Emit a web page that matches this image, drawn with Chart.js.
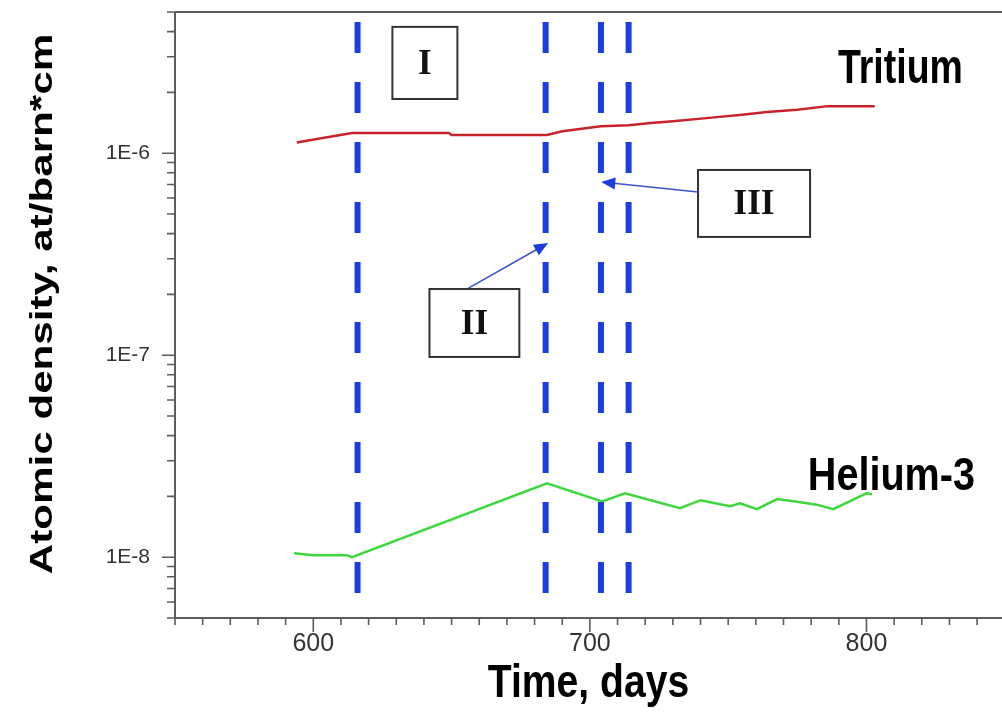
<!DOCTYPE html>
<html>
<head>
<meta charset="utf-8">
<title>Tritium and Helium-3</title>
<script src="https://cdn.jsdelivr.net/npm/chart.js@4.4.1/dist/chart.umd.min.js"></script>
<style>
   html, body { margin: 0; padding: 0; background: #fff; overflow: hidden; }
   canvas { display: block; }
</style>
</head>
<body>
<canvas id="density-graph" width="1002" height="728"></canvas>
<script>
const ctx = document.getElementById('density-graph')

// atomic density, at/barn*cm
const tritiumDays = [594, 605, 614, 649, 650, 684.5, 690, 697, 704, 714, 722, 730, 744, 755, 764, 775, 786, 803]
const tritiumValues = [1.13e-6, 1.2e-6, 1.26e-6, 1.26e-6, 1.23e-6, 1.23e-6, 1.285e-6, 1.32e-6, 1.36e-6, 1.375e-6, 1.41e-6, 1.44e-6, 1.5e-6, 1.55e-6, 1.6e-6, 1.64e-6, 1.71e-6, 1.71e-6]

const heliumDays = [593, 600, 612, 614, 684.5, 704.4, 712.7, 732.6, 740, 750.7, 754.3, 760.4, 767.7, 775, 782, 788, 800, 802]
const heliumValues = [1.047e-8, 1.023e-8, 1.023e-8, 1.0e-8, 2.32e-8, 1.89e-8, 2.07e-8, 1.75e-8, 1.915e-8, 1.79e-8, 1.85e-8, 1.73e-8, 1.94e-8, 1.88e-8, 1.82e-8, 1.73e-8, 2.07e-8, 2.05e-8]

// phase boundaries (days) and the span of the dashed markers
const phaseDays = [616, 684, 704, 714]
const phaseTop = 4.46e-6
const phaseBottom = 6.35e-9

const xTicks = [600, 700, 800]
const yTicks = [1e-8, 1e-7, 1e-6]

// callout boxes and arrows, in data units
const boxes = [
   { text: 'I', x0: 628.6, x1: 652.1, y0: 1.855e-6, y1: 4.22e-6 },
   { text: 'II', x0: 642, x1: 674.5, y0: 9.8e-8, y1: 2.127e-7 },
   { text: 'III', x0: 739.1, x1: 779.6, y0: 3.85e-7, y1: 8.26e-7 }
]
const arrows = [
   { from: [656.1, 2.15e-7], to: [684.9, 3.59e-7] },
   { from: [739.1, 6.43e-7], to: [704.1, 7.2e-7] }
]
const seriesNames = [
   { text: 'Tritium', x: 789.7, y: 2.226e-6, size: 48, sx: 0.78 },
   { text: 'Helium-3', x: 778.8, y: 2.15e-8, size: 46, sx: 0.86 }
]

const sans = "'Liberation Sans', Arial, sans-serif"
const serif = "'Liberation Serif', 'Times New Roman', serif"

const toPoints = (xs, ys) => xs.map((x, i) => ({ x, y: ys[i] }))
const expLabel = v => '1E' + Math.round(Math.log10(v))

const phaseSets = phaseDays.map(d => ({
   data: [{ x: d, y: phaseTop }, { x: d, y: phaseBottom }],
   borderColor: '#1b3ee0',
   borderWidth: 6,
   borderDash: [31, 29],
   borderCapStyle: 'butt',
   pointRadius: 0
}))

const drawStretched = (c, text, x, y, sx, sy) => {
   c.save()
   c.translate(x, y)
   c.scale(sx, sy)
   c.fillText(text, 0, 0)
   c.restore()
}

const frame = {
   id: 'frame',
   afterDatasetsDraw(chart) {
      const c = chart.ctx
      const a = chart.chartArea
      const x = chart.scales.x
      const y = chart.scales.y
      c.save()

      // axes and top border
      c.strokeStyle = '#5c5c5c'
      c.lineWidth = 2
      c.beginPath()
      c.moveTo(a.left, a.top)
      c.lineTo(a.right, a.top)
      c.moveTo(a.left, a.top)
      c.lineTo(a.left, a.bottom)
      c.lineTo(a.right, a.bottom)
      c.stroke()

      // major and minor ticks
      c.lineWidth = 1.6
      c.beginPath()
      for (let d = x.min; d <= x.max; d += 10) {
         const px = x.getPixelForValue(d)
         const len = d % 100 === 0 ? 14 : 7
         c.moveTo(px, a.bottom)
         c.lineTo(px, a.bottom + len)
      }
      for (let e = -9; e <= -6; e++) {
         for (let m = 1; m <= 9; m++) {
            const v = m * Math.pow(10, e)
            if (v < y.min * 0.999 || v > y.max * 1.001) continue
            const py = y.getPixelForValue(v)
            const len = m === 1 ? 13 : 8
            c.moveTo(a.left - len, py)
            c.lineTo(a.left, py)
         }
      }
      c.stroke()

      // callout boxes
      c.strokeStyle = '#333'
      c.lineWidth = 2
      c.font = 'bold 35px ' + serif
      c.textAlign = 'center'
      c.textBaseline = 'middle'
      boxes.forEach(b => {
         const l = x.getPixelForValue(b.x0)
         const r = x.getPixelForValue(b.x1)
         const t = y.getPixelForValue(b.y1)
         const bt = y.getPixelForValue(b.y0)
         c.fillStyle = '#fff'
         c.fillRect(l, t, r - l, bt - t)
         c.strokeRect(l, t, r - l, bt - t)
         c.fillStyle = '#111'
         c.fillText(b.text, (l + r) / 2, (t + bt) / 2 + 2)
      })

      // arrows
      arrows.forEach(ar => {
         const x0 = x.getPixelForValue(ar.from[0])
         const y0 = y.getPixelForValue(ar.from[1])
         const x1 = x.getPixelForValue(ar.to[0])
         const y1 = y.getPixelForValue(ar.to[1])
         const ang = Math.atan2(y1 - y0, x1 - x0)
         c.strokeStyle = '#3b55c8'
         c.lineWidth = 1.5
         c.beginPath()
         c.moveTo(x0, y0)
         c.lineTo(x1 - Math.cos(ang) * 10, y1 - Math.sin(ang) * 10)
         c.stroke()
         c.fillStyle = '#1a3ce0'
         c.beginPath()
         c.moveTo(x1, y1)
         c.lineTo(x1 - Math.cos(ang) * 14 + Math.sin(ang) * 6, y1 - Math.sin(ang) * 14 - Math.cos(ang) * 6)
         c.lineTo(x1 - Math.cos(ang) * 14 - Math.sin(ang) * 6, y1 - Math.sin(ang) * 14 + Math.cos(ang) * 6)
         c.closePath()
         c.fill()
      })

      // series names
      c.fillStyle = '#000'
      c.textAlign = 'left'
      c.textBaseline = 'alphabetic'
      seriesNames.forEach(n => {
         c.font = 'bold ' + n.size + 'px ' + sans
         drawStretched(c, n.text, x.getPixelForValue(n.x), y.getPixelForValue(n.y), n.sx, 1)
      })

      // axis titles
      c.textAlign = 'center'
      c.font = 'bold 46px ' + sans
      drawStretched(c, 'Time, days', (a.left + a.right) / 2, 697, 0.85, 1)

      c.font = 'bold 31px ' + sans
      c.save()
      c.translate(52, 304)
      c.rotate(-Math.PI / 2)
      c.scale(1.36, 1)
      c.fillText('Atomic density, at/barn*cm', 0, 0)
      c.restore()

      c.restore()
   }
}

const densityGraph = new Chart(ctx, {
   type: 'line',
   data: {
      datasets: [
         ...phaseSets,
         {
            label: 'Tritium',
            data: toPoints(tritiumDays, tritiumValues),
            borderColor: '#c8232b',
            borderWidth: 2.5,
            pointRadius: 0
         },
         {
            label: 'Helium-3',
            data: toPoints(heliumDays, heliumValues),
            borderColor: '#3cd83c',
            borderWidth: 2.5,
            pointRadius: 0
         }
      ]
   },
   options: {
      responsive: false,
      animation: false,
      layout: { padding: { top: 12, left: 0, right: 0, bottom: 0 } },
      plugins: {
         legend: { display: false },
         tooltip: { enabled: false }
      },
      scales: {
         x: {
            type: 'linear',
            min: 550,
            max: 849,
            grid: { display: false },
            border: { display: false },
            ticks: {
               font: { family: sans, size: 25 },
               color: '#333',
               padding: 3
            },
            afterBuildTicks: s => { s.ticks = xTicks.map(v => ({ value: v })) },
            afterFit: s => {
               s.height = 110
               s.paddingLeft = 0
               s.paddingRight = 0
            }
         },
         y: {
            type: 'logarithmic',
            min: 5e-9,
            max: 5e-6,
            grid: { display: false },
            border: { display: false },
            ticks: {
               font: { family: sans, size: 21 },
               color: '#333',
               padding: 17,
               callback: v => expLabel(v)
            },
            afterBuildTicks: s => { s.ticks = yTicks.map(v => ({ value: v })) },
            afterFit: s => {
               s.width = 175
               s.paddingTop = 0
               s.paddingBottom = 0
            }
         }
      }
   },
   plugins: [frame]
})
</script>
</body>
</html>
